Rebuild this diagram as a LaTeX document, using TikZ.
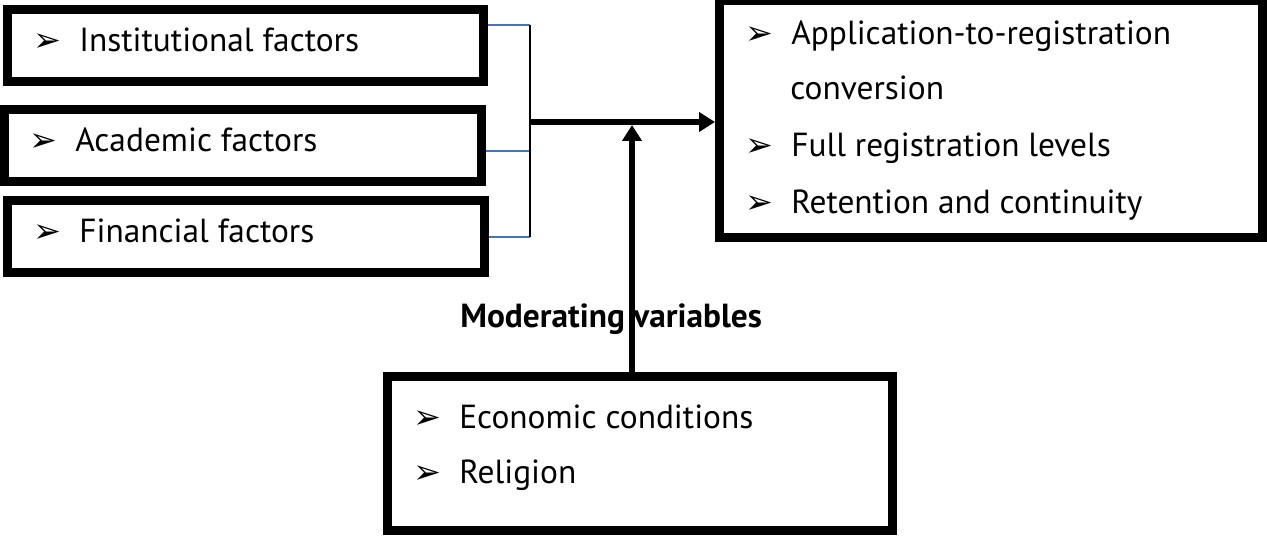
\documentclass[tikz,border=0pt]{standalone}
\usepackage{fontspec}
\setmainfont{PT Sans}
\newfontfamily\dejavu{DejaVu Sans}
\usetikzlibrary{arrows.meta}
\definecolor{linkblue}{RGB}{68,114,196}
\newcommand\arrbul{\makebox[0.92cm][l]{\dejavu\fontsize{19}{19}\selectfont ➢}}
\begin{document}
\begin{tikzpicture}[x=0.02cm,y=-0.02cm,
  box/.style={draw,line width=0.18cm,rectangle,inner sep=0pt},
  item/.style={anchor=base west,inner sep=0pt,font=\fontsize{19}{21}\selectfont},
  thick arrow/.style={line width=0.11cm,-{Triangle[length=0.32cm,width=0.38cm]}}]
\useasboundingbox (0,0) rectangle (1267,537);
% independent variables
\node[box,minimum width=476*0.02cm,minimum height=72*0.02cm] (inst) at (245.5,45.5) {};
\node[box,minimum width=477*0.02cm,minimum height=72*0.02cm] (acad) at (243,145.5) {};
\node[box,minimum width=476.5*0.02cm,minimum height=72*0.02cm] (fin) at (245.75,236.5) {};
\node[item] (instT) at (33,52) {\arrbul Institutional factors};
\node[item] (acadT) at (29,152) {\arrbul Academic factors};
\node[item] (finT) at (33,242) {\arrbul Financial factors};
% dependent variables
\node[box,minimum width=543*0.02cm,minimum height=237*0.02cm] (outc) at (991,119) {};
\node[item] (appT) at (745,45) {\arrbul Application-to-registration};
\node[item] (convT) at (790,100) {conversion};
\node[item] (fullT) at (745,156) {\arrbul Full registration levels};
\node[item] (retT) at (745,213) {\arrbul Retention and continuity};
% moderating variables
\node[box,minimum width=505*0.02cm,minimum height=154*0.02cm] (mod) at (640,453.5) {};
\node[item,font=\fontsize{19}{21}\selectfont\bfseries] (modT) at (460,327) {Moderating variables};
\node[item] (ecoT) at (413,428) {\arrbul Economic conditions};
\node[item] (relT) at (413,483) {\arrbul Religion};
% bracket
\coordinate (b1) at (530,25);
\coordinate (b2) at (530,151);
\coordinate (b3) at (530,237);
\coordinate (join) at (530,122);
\coordinate (vtip) at (632,125);
\draw[linkblue,line width=0.8pt] (b1 -| inst.east) -- (b1);
\draw[linkblue,line width=0.8pt] (b2 -| acad.east) -- (b2);
\draw[linkblue,line width=0.8pt] (b3 -| fin.east) -- (b3);
\draw[line width=0.8pt] (b1) -- (b3);
\draw[thick arrow] (join) -- (join -| outc.west);
\draw[thick arrow] (vtip |- mod.north) -- (vtip);
\end{tikzpicture}
\end{document}
